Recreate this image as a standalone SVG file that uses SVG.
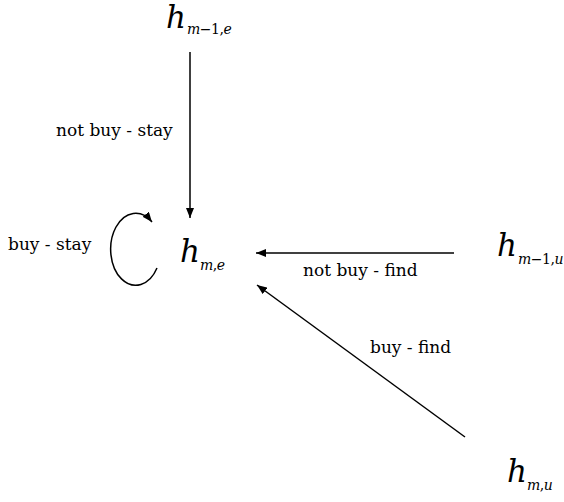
<svg xmlns="http://www.w3.org/2000/svg" width="564" height="502" viewBox="0 0 564 502">
<style>
text{font-family:'DejaVu Serif',serif;fill:#000}
.lbl{font-size:17px}
.h{font-style:italic;font-size:31px}
.s{font-style:italic;font-size:14px;letter-spacing:-0.5px}
.u{font-style:normal}
.edge{stroke:#000;stroke-width:1.5;fill:none}
</style>
<defs>
<marker id="ah" viewBox="0 0 10 8" refX="10" refY="4" markerWidth="10" markerHeight="8" markerUnits="userSpaceOnUse" orient="auto">
<path d="M0,0 L10,4 L0,8 z" fill="#000"/>
</marker>
</defs>
<rect width="564" height="502" fill="#fff"/>
<g id="connectors">
<line class="edge" x1="190" y1="52" x2="190" y2="218" marker-end="url(#ah)"/>
<line class="edge" x1="454" y1="253" x2="256" y2="253" marker-end="url(#ah)"/>
<line class="edge" x1="465" y1="437" x2="257" y2="285" marker-end="url(#ah)"/>
<path class="edge" d="M157,268 A25,36 0 1 1 152,222" marker-end="url(#ah)"/>
<text class="lbl" x="56" y="136">not buy - stay</text>
<text class="lbl" x="8" y="250">buy - stay</text>
<text class="lbl" x="303" y="276">not buy - find</text>
<text class="lbl" x="370" y="353">buy - find</text>
</g>
<g id="n-hm1e"><text class="h" x="166" y="28">h</text><text class="s" x="187" y="34">m<tspan class="u">−1,</tspan>e</text></g>
<g id="n-hme"><text class="h" x="180" y="262">h</text><text class="s" x="200" y="270">m<tspan class="u">,</tspan>e</text></g>
<g id="n-hm1u"><text class="h" x="497" y="256">h</text><text class="s" x="518" y="264">m<tspan class="u">−1,</tspan>u</text></g>
<g id="n-hmu"><text class="h" x="507" y="482">h</text><text class="s" x="527" y="490">m<tspan class="u">,</tspan>u</text></g>
</svg>
